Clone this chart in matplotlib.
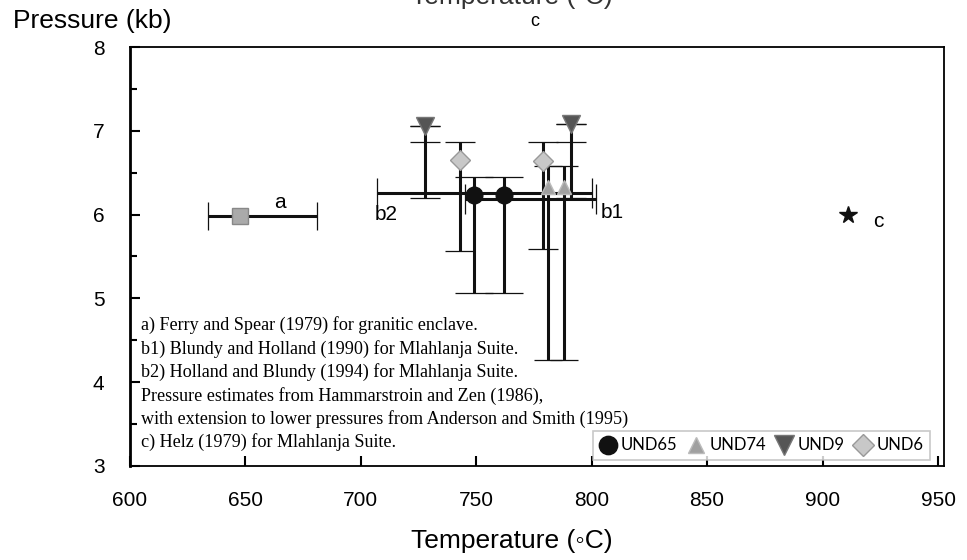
import matplotlib
matplotlib.use('Agg')
import matplotlib.pyplot as plt
from matplotlib.ticker import MultipleLocator

# a) Ferry and Spear garnet-biotite estimate
aT = [648]
aP = [5.98]
aTlo = [634]
aThi = [681]

# b1 / b2 hornblende-plagioclase temperature ranges
bT = [753, 773]
bP = [6.26, 6.19]
bTlo = [707, 745]
bThi = [800, 802]

# samples: temperature, pressure and the pressure range
und65T = [749, 762]
und65P = [6.23, 6.23]
und65Plo = [5.06, 5.06]
und65Phi = [6.45, 6.45]

und74T = [781, 788]
und74P = [6.33, 6.33]
und74Plo = [4.27, 4.27]
und74Phi = [6.58, 6.58]

und9T = [728, 791]
und9P = [7.06, 7.08]
und9Plo = [6.20, 6.20]
und9Phi = [7.06, 7.08]
und9Pcap = [6.87, 6.87]

und6T = [743, 779]
und6P = [6.65, 6.64]
und6Plo = [5.56, 5.59]
und6Phi = [6.87, 6.87]

# c) Helz
cT = [911]
cP = [6.0]

notes = [
    'a) Ferry and Spear (1979) for granitic enclave.',
    'b1) Blundy and Holland (1990) for Mlahlanja Suite.',
    'b2) Holland and Blundy (1994) for Mlahlanja Suite.',
    'Pressure estimates from Hammarstroin and Zen (1986),',
    'with extension to lower pressures from Anderson and Smith (1995)',
    'c) Helz (1979) for Mlahlanja Suite.',
]

sansFont = 'Liberation Sans'
serifFont = 'Liberation Serif'
capGray = '#777777'

fig = plt.figure(figsize=(9.67, 5.6), dpi=100)
ax = fig.add_axes([0.134, 0.168, 0.842, 0.748])


def errLines(T, P, Tlo=None, Thi=None, Plo=None, Phi=None, lw=2.2, capsize=9):
    xerr = None
    yerr = None
    if Tlo is not None:
        xerr = [[t - lo for t, lo in zip(T, Tlo)], [hi - t for t, hi in zip(T, Thi)]]
    if Plo is not None:
        yerr = [[p - lo for p, lo in zip(P, Plo)], [hi - p for p, hi in zip(P, Phi)]]
    line, caps, bars = ax.errorbar(T, P, xerr=xerr, yerr=yerr, fmt='none', ecolor='#111111',
                                   elinewidth=lw, capsize=capsize, capthick=0.9, zorder=2)
    for c in caps:
        c.set_color(capGray)


# horizontal bars
errLines(aT, aP, Tlo=aTlo, Thi=aThi, capsize=10)
errLines(bT, bP, Tlo=bTlo, Thi=bThi, capsize=11)

# vertical bars
errLines(und65T, und65P, Plo=und65Plo, Phi=und65Phi, capsize=14)
errLines(und74T, und74P, Plo=und74Plo, Phi=und74Phi, capsize=10)
errLines(und9T, und9P, Plo=und9Plo, Phi=und9Phi, capsize=11)
errLines(und9T, und9P, Plo=und9Pcap, Phi=und9Phi, lw=0, capsize=11)
errLines(und6T, und6P, Plo=und6Plo, Phi=und6Phi, capsize=11)

# markers
ax.plot(aT, aP, linestyle='none', marker='s', markersize=12, color='#aaaaaa',
        markeredgecolor='#888888', zorder=3)
ax.plot(und65T, und65P, linestyle='none', marker='o', markersize=12, color='#111111',
        markeredgecolor='#111111', zorder=4, label='UND65')
ax.plot(und74T, und74P, linestyle='none', marker='^', markersize=10, color='#a0a0a0',
        markeredgecolor='#bbbbbb', zorder=4, label='UND74')
ax.plot(und9T, und9P, linestyle='none', marker='v', markersize=13, color='#555555',
        markeredgecolor='#777777', zorder=4, label='UND9')
ax.plot(und6T, und6P, linestyle='none', marker='D', markersize=10, color='#c8c8c8',
        markeredgecolor='#999999', zorder=4, label='UND6')
ax.plot(cT, cP, linestyle='none', marker='*', markersize=13, color='#111111', zorder=4)

# point labels
ax.text(665, 6.14, 'a', fontsize=15, family=sansFont, ha='center', va='center')
ax.text(711, 6.0, 'b2', fontsize=15, family=sansFont, ha='center', va='center')
ax.text(804, 6.02, 'b1', fontsize=15, family=sansFont, ha='left', va='center')
ax.text(922, 5.92, 'c', fontsize=15, family=sansFont, ha='left', va='center')

# notes
for i, note in enumerate(notes):
    ax.text(605, 4.68 - i * 0.28, note, fontsize=13.1, family=serifFont, ha='left', va='center')

ax.set_xlim(600, 952.5)
ax.set_ylim(3, 8)
ax.xaxis.set_major_locator(MultipleLocator(50))
ax.yaxis.set_major_locator(MultipleLocator(1))
ax.yaxis.set_minor_locator(MultipleLocator(0.5))
ax.tick_params(axis='both', which='major', direction='in', length=7, width=1.5,
               labelsize=15, pad=18)
ax.tick_params(axis='y', which='minor', direction='in', length=5, width=1.5)
ax.tick_params(axis='x', which='both', top=False)
ax.tick_params(axis='y', which='both', right=False)
for lbl in ax.get_xticklabels() + ax.get_yticklabels():
    lbl.set_family(sansFont)
for side in ['top', 'right', 'bottom']:
    ax.spines[side].set_linewidth(1.3)
ax.spines['left'].set_linewidth(2)

leg = ax.legend(loc='lower right', bbox_to_anchor=(0.983, 0.014), borderaxespad=0,
                ncol=4, frameon=True, fancybox=False, edgecolor='#bbbbbb',
                handlelength=1.0, handletextpad=0.3, columnspacing=0.6, borderpad=0.4,
                prop={'family': 'Lato', 'size': 12}, markerscale=1.1)
leg.get_frame().set_linewidth(1.2)

fig.text(0.013, 0.963, 'Pressure (kb)', fontsize=19, family=sansFont, ha='left', va='center')
fig.text(0.529, 1 - 541 / 560, 'Temperature (\u25e6C)', fontsize=19, family=sansFont,
         ha='center', va='center')
# clipped header text at top edge of the scan
fig.text(0.529, 1 - 4 / 560, 'Temperature (\u25e6C)', fontsize=19, family=sansFont,
         ha='center', va='baseline', color='#333333')
fig.text(0.553, 1 - 21 / 560, 'c', fontsize=13, family=sansFont, ha='center', va='center')

fig.savefig('out.png', dpi=100)
